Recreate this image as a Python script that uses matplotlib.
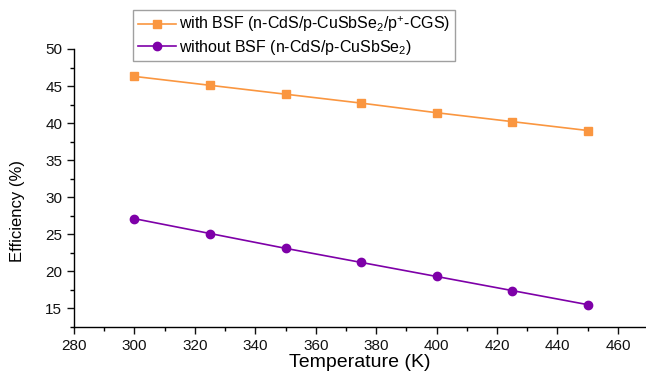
import matplotlib
matplotlib.use("Agg")
import matplotlib.pyplot as plt
from matplotlib.ticker import MultipleLocator

plt.rcParams["font.family"] = ["Liberation Sans", "DejaVu Sans"]
plt.rcParams["mathtext.default"] = "regular"

temperature = [300, 325, 350, 375, 400, 425, 450]
eff_with_bsf = [46.3, 45.1, 43.9, 42.7, 41.4, 40.2, 39.0]
eff_without_bsf = [27.1, 25.1, 23.1, 21.2, 19.3, 17.4, 15.5]

label_with = r"with BSF (n-CdS/p-CuSbSe$_2$/p$^{+}$-CGS)"
label_without = r"without BSF (n-CdS/p-CuSbSe$_2$)"

orange = "#FA9640"
purple = "#7E00A8"

fig = plt.figure(figsize=(6.46, 3.74), dpi=100)
ax = fig.add_axes([0.1146, 0.126, 0.884, 0.743])

ax.plot(temperature, eff_with_bsf, "-s", color=orange, lw=1.2, ms=5.5, label=label_with)
ax.plot(temperature, eff_without_bsf, "-o", color=purple, lw=1.2, ms=6, label=label_without)

ax.set_xlim(280, 469)
ax.set_ylim(12.5, 50)
ax.xaxis.set_major_locator(MultipleLocator(20))
ax.xaxis.set_minor_locator(MultipleLocator(10))
ax.yaxis.set_major_locator(MultipleLocator(5))
ax.yaxis.set_minor_locator(MultipleLocator(2.5))

for s in ["top", "right"]:
    ax.spines[s].set_visible(False)
for s in ["left", "bottom"]:
    ax.spines[s].set_linewidth(1.0)

ax.tick_params(which="major", direction="out", length=5, width=1, labelsize=11, colors="#111111")
ax.tick_params(which="minor", direction="out", length=3, width=1)

ax.set_xlabel("Temperature (K)", fontsize=14, labelpad=1)
ax.set_ylabel("Efficiency (%)", fontsize=12)
ax.yaxis.set_label_coords(-0.085, 0.417)

leg = fig.legend(loc="upper left", bbox_to_anchor=(0.206, 0.973), bbox_transform=fig.transFigure,
                 fontsize=11.5, frameon=True, fancybox=False, handlelength=2.4,
                 borderpad=0.3, labelspacing=0.2, handletextpad=0.2, borderaxespad=0)
leg.get_frame().set_edgecolor("#888888")
leg.get_frame().set_linewidth(1.0)

fig.savefig("out.png", dpi=100)
